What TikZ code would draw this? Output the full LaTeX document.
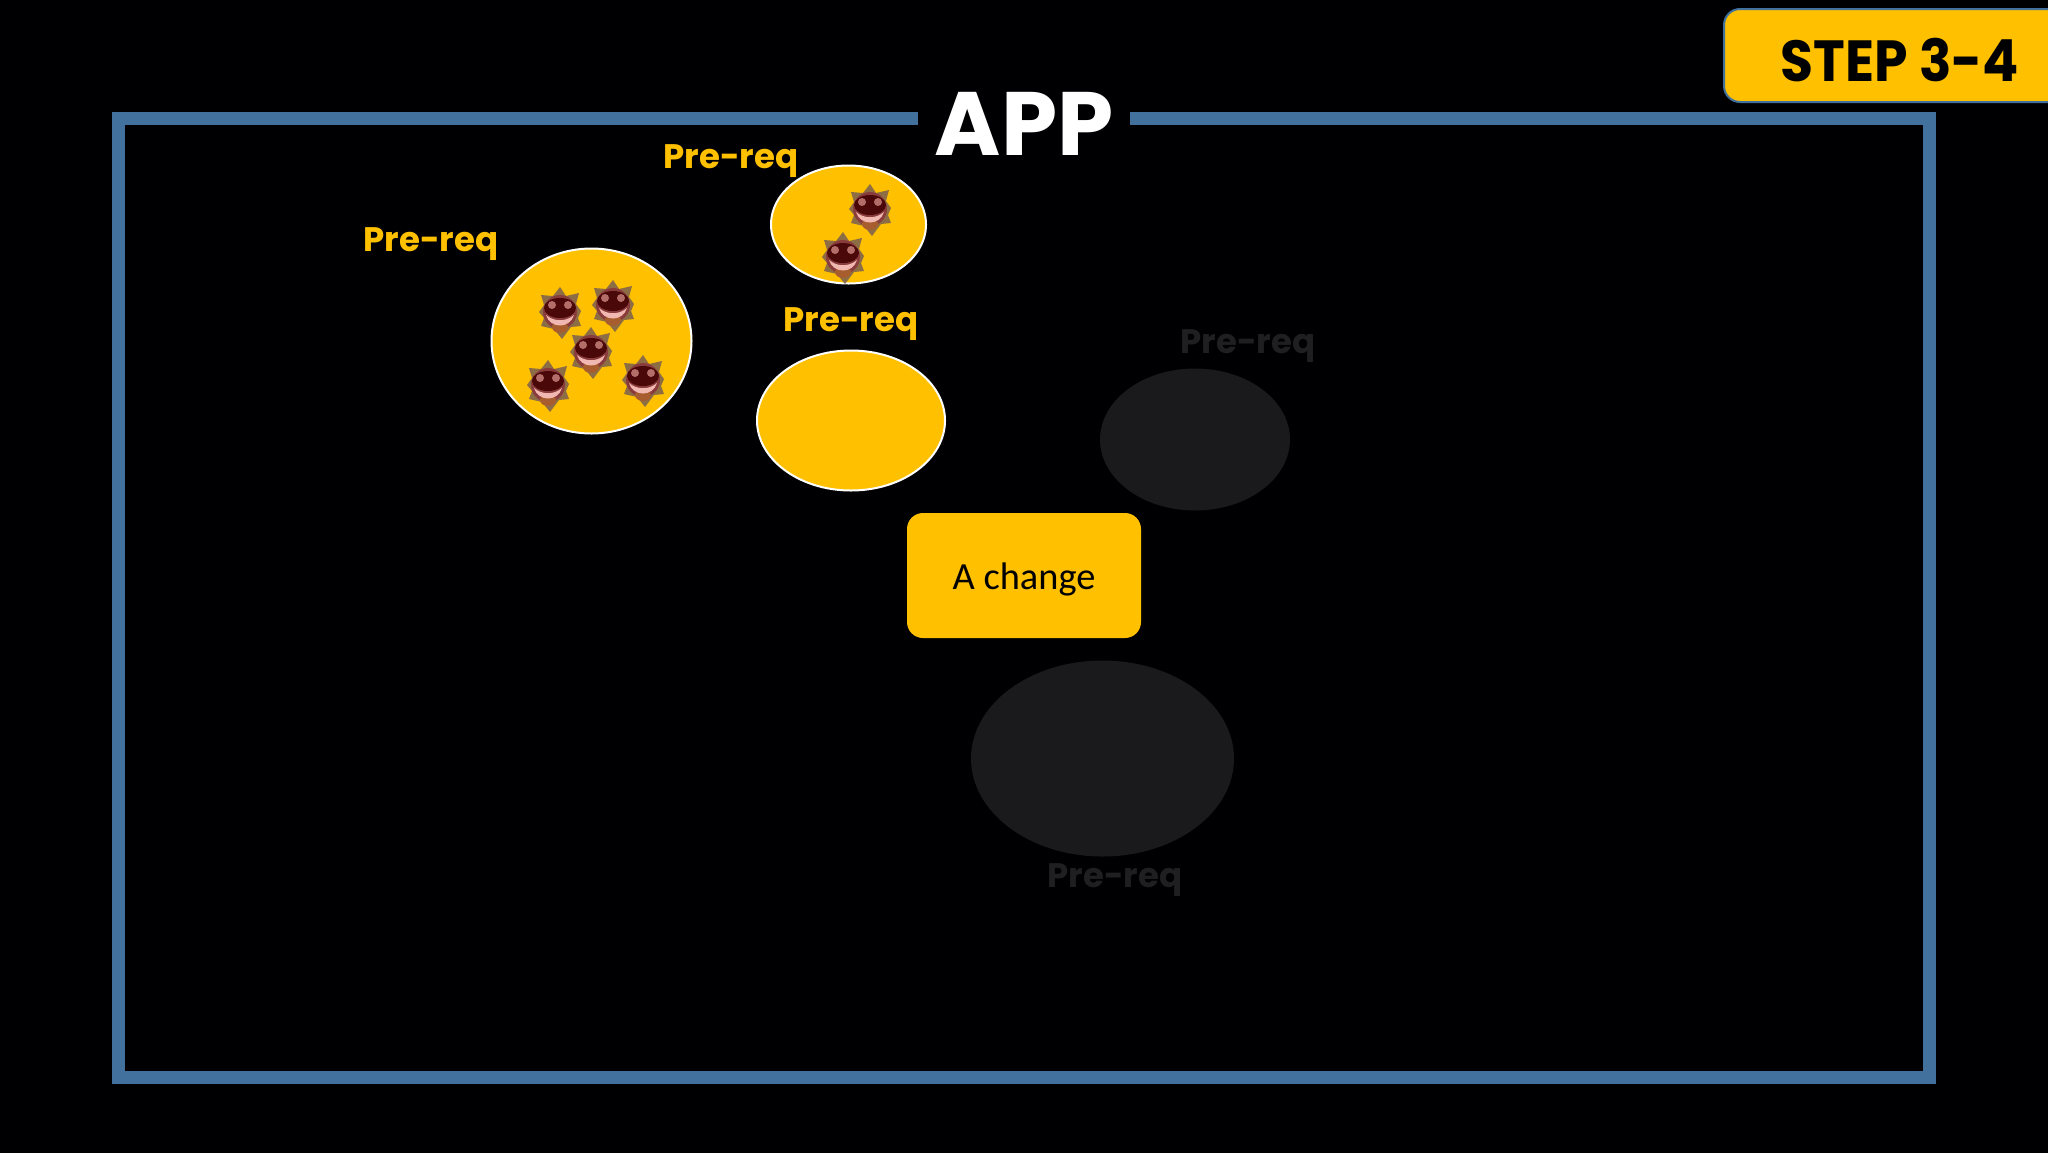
\documentclass[tikz,border=0pt]{standalone}
\usepackage{fontspec}
\setmainfont{Poppins}[BoldFont={Poppins Bold}]
\newfontfamily\bodyfont{Carlito}
\usetikzlibrary{shapes.geometric}
\definecolor{bgk}{HTML}{000002}
\definecolor{amber}{HTML}{FFC000}
\definecolor{steel}{HTML}{41719C}
\definecolor{ghost}{HTML}{1A1A1C}
\definecolor{ghosttext}{HTML}{1F1F21}
\definecolor{vspike}{HTML}{7A6050}
\definecolor{vbody}{HTML}{8A3C3C}
\definecolor{vdark}{HTML}{4A0808}
\definecolor{vpink}{HTML}{F0B8B0}
\tikzset{
  x=0.5pt,y=-0.5pt,
  frameline/.style={draw=steel,line width=6.5pt,miter limit=10},
  blob/.style={ellipse,fill=amber,draw=white,line width=1pt,inner sep=0pt},
  ghostblob/.style={ellipse,fill=ghost,inner sep=0pt},
  prereq/.style={font=\bfseries\fontsize{17}{20}\selectfont,text=amber,inner sep=0pt},
  ghostlabel/.style={prereq,text=ghosttext},
  virus/.pic={
    \fill[vspike,opacity=.85] (0,-25)--(6,-16)--(19,-19)--(16,-8)--(21,-1)--(18,6)--(21,14)--(11,15)--(2,27)--(-6,17)--(-19,14)--(-16,6)--(-21,0)--(-16,-7)--(-19,-17)--(-7,-16)--cycle;
    \fill[vbody] (0,0) circle[radius=17];
    \fill[vbody!75!amber] (0,15) ellipse[x radius=8,y radius=6];
    \fill[vdark] (0,-4) ellipse[x radius=16,y radius=10];
    \fill[vbody!60!vpink] (-8,-7) circle[radius=4];
    \fill[vbody!60!vpink] (8,-7) circle[radius=4];
    \fill[vpink] (-14,3) .. controls (-6,10) and (6,10) .. (14,3) .. controls (10,17) and (-10,17) .. (-14,3) -- cycle;
    \fill[vdark] (0,-12) -- (5,-3) -- (-5,-3) -- cycle;
  }
}
\begin{document}
\begin{tikzpicture}
\useasboundingbox (0,0) rectangle (2048,1152);
\fill[bgk] (-10,-10) rectangle (2058,1162);
% frame
\draw[frameline] (918,118.5) -- (118.5,118.5) -- (118.5,1077.5) -- (1929,1077.5) -- (1929,118.5) -- (1130,118.5);
\node[font=\bfseries\fontsize{45}{50}\selectfont,text=white,inner sep=0pt,anchor=base] (apptitle) at (1024,155) {APP};
% step badge
\draw[fill=amber,draw=steel,line width=1pt,rounded corners=8pt] (2080,9) -- (1724,9) -- (1724,102) -- (2080,102);
\node[font=\bfseries\fontsize{29}{32}\selectfont,text=black,inner sep=0pt,anchor=base,transform shape,xscale=.925] (steplabel) at (1900,81) {STEP 3-4};
% ghost items
\node[ghostblob,minimum width=95pt,minimum height=71pt] (g1) at (1195,439.5) {};
\node[ghostblob,minimum width=131.5pt,minimum height=98pt] (g2) at (1102.5,758.5) {};
\node[ghostlabel,anchor=base] (gl1) at (1248,353) {Pre-req};
\node[ghostlabel,anchor=base] (gl2) at (1115,887) {Pre-req};
% amber blobs
\node[blob,minimum width=100pt,minimum height=92.5pt] (b1) at (591.5,341) {};
\node[blob,minimum width=77.5pt,minimum height=59pt] (b2) at (848.5,224.5) {};
\node[blob,minimum width=94pt,minimum height=70pt] (b3) at (851,420.5) {};
\node[prereq,anchor=base] (l1) at (431,251) {Pre-req};
\node[prereq,anchor=base] (l2) at (731,168) {Pre-req};
\node[prereq,anchor=base] (l3) at (851,331) {Pre-req};
% viruses
\foreach \p in {(560,312),(613,305),(591,352),(548,385),(643,380),(870,209),(843,257)}
  \pic at \p {virus};
% change box
\node[fill=amber,rounded corners=8pt,minimum width=117pt,minimum height=62.5pt,inner sep=0pt] (change) at (1024,575.5) {};
\node[inner sep=0pt,font=\bodyfont\fontsize{19.2}{22}\selectfont,text=black] (changelabel) at (1024,579) {A change};
\end{tikzpicture}
\end{document}
